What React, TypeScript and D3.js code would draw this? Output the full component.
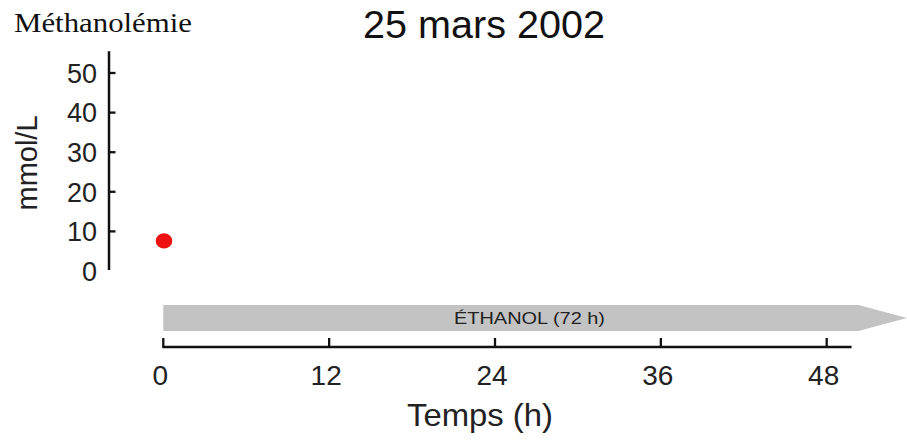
import React from "react";
import * as d3 from "d3";

const title = "25 mars 2002";
const yTopLabel = "Méthanolémie";
const yUnitLabel = "mmol/L";
const xLabel = "Temps (h)";
const ethanolLabel = "ÉTHANOL (72 h)";

const timeTicks = [0, 12, 24, 36, 48];
const concTicks = [0, 10, 20, 30, 40, 50];

const sampleTimes = [0.05];
const sampleMethanol = [7.6];

// ethanol infusion (hours on the time axis): start, drawn body end, arrow tip
const ethanolStart = 0;
const ethanolBodyEnd = 50.3;
const ethanolTip = 53.8;

const xAxisMax = 49.8;
const yAxisMax = 55.5;

export default function App() {
  const W = 907;
  const H = 442;
  const x = d3.scaleLinear().domain([0, 48]).range([163.3, 826.7]);
  const y = d3.scaleLinear().domain([0, 50]).range([271, 73]);

  const axisY = 347;
  const barTop = 305;
  const barBottom = 331;
  const barMid = (barTop + barBottom) / 2;

  const arrow = d3.line<[number, number]>()([
    [x(ethanolStart), barTop],
    [x(ethanolBodyEnd), barTop],
    [x(ethanolTip), barMid],
    [x(ethanolBodyEnd), barBottom],
    [x(ethanolStart), barBottom],
  ]) + "Z";

  const sans = "'Liberation Sans', Arial, sans-serif";

  return (
    <svg
      width={W}
      height={H}
      style={{ position: "absolute", left: 0, top: 0, background: "#fff" }}
    >
      <rect x={0} y={0} width={W} height={H} fill="#fff" />
      {/* title */}
      <text x={484} y={38} textAnchor="middle" fontFamily={sans} fontSize={38} fill="#111" textLength={242} lengthAdjust="spacingAndGlyphs">
        {title}
      </text>
      <text x={14} y={31.5} fontFamily="'Liberation Serif', 'Times New Roman', serif" fontSize={27} fill="#111" textLength={178} lengthAdjust="spacingAndGlyphs">
        {yTopLabel}
      </text>

      {/* y axis */}
      <line x1={109} x2={109} y1={y(0) - 1} y2={y(yAxisMax)} stroke="#111" strokeWidth={2.5} />
      {concTicks.filter((t) => t > 0).map((t) => (
        <line key={"yt" + t} x1={109} x2={115.5} y1={y(t)} y2={y(t)} stroke="#111" strokeWidth={2.3} />
      ))}
      {concTicks.map((t) => (
        <text key={"yl" + t} x={97} y={y(t)} dy="0.36em" textAnchor="end" fontFamily={sans} fontSize={27} fill="#222">
          {t}
        </text>
      ))}
      <text
        transform={`translate(37,163) rotate(-90)`}
        textAnchor="middle"
        fontFamily={sans}
        fontSize={29}
        fill="#222"
      >
        {yUnitLabel}
      </text>

      {/* data points */}
      {sampleTimes.map((t, i) => (
        <ellipse key={"p" + i} cx={x(t)} cy={y(sampleMethanol[i])} rx={8.3} ry={7.6} fill="#ee1111" />
      ))}

      {/* ethanol bar */}
      <path d={arrow} fill="#c3c3c3" />
      <text x={529.5} y={barMid} dy="0.36em" textAnchor="middle" fontFamily={sans} fontSize={17} fill="#222" textLength={151} lengthAdjust="spacingAndGlyphs">
        {ethanolLabel}
      </text>

      {/* x axis */}
      <line x1={x(0) - 1} x2={x(xAxisMax)} y1={axisY} y2={axisY} stroke="#111" strokeWidth={2.6} />
      {timeTicks.map((t) => (
        <line key={"xt" + t} x1={x(t)} x2={x(t)} y1={axisY} y2={axisY - 9} stroke="#111" strokeWidth={2.3} />
      ))}
      {timeTicks.map((t) => (
        <text key={"xl" + t} x={x(t) - 3} y={385} textAnchor="middle" fontFamily={sans} fontSize={28} fill="#222">
          {t}
        </text>
      ))}
      <text x={480} y={426} textAnchor="middle" fontFamily={sans} fontSize={32} fill="#222" textLength={146} lengthAdjust="spacingAndGlyphs">
        {xLabel}
      </text>
    </svg>
  );
}
